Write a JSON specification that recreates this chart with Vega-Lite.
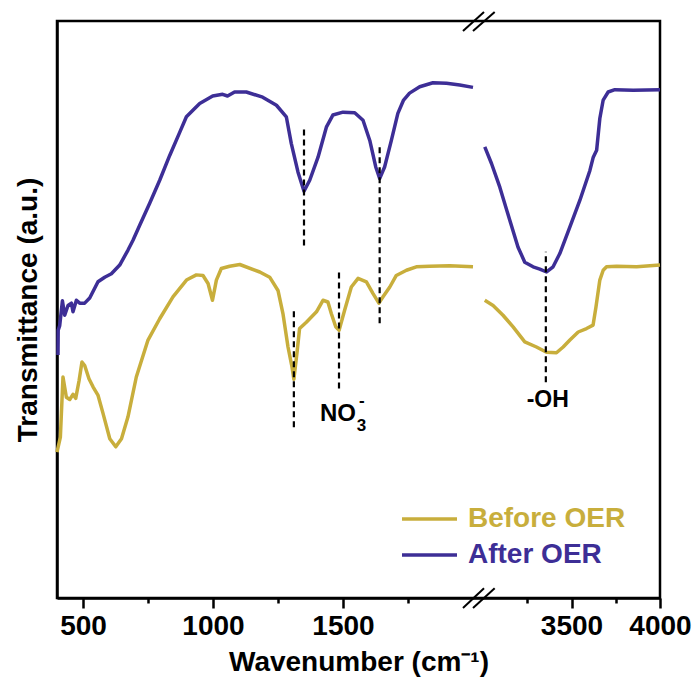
{
  "$schema": "https://vega.github.io/schema/vega-lite/v6.json",
  "width": 603,
  "height": 577,
  "autosize": {"type": "none"},
  "padding": {"left": 57, "top": 21, "right": 39, "bottom": 88},
  "config": {
    "font": "Liberation Sans",
    "view": {"stroke": "black", "strokeWidth": 2.5},
    "axis": {
      "domainColor": "black", "domainWidth": 2.5, "tickColor": "black", "tickWidth": 2.5,
      "labelColor": "black", "titleColor": "black", "labelFont": "Liberation Sans", "titleFont": "Liberation Sans",
      "labelFontWeight": "bold", "titleFontWeight": "bold", "labelFontSize": 28, "titleFontSize": 28, "grid": false
    }
  },
  "datasets": {
    "spectra": [
      {"s": "After OER", "seg": "L", "w": 403.8, "t": 42.1}, {"s": "After OER", "seg": "L", "w": 404.6, "t": 46.4},
      {"s": "After OER", "seg": "L", "w": 410.4, "t": 47.2}, {"s": "After OER", "seg": "L", "w": 420.8, "t": 51.5},
      {"s": "After OER", "seg": "L", "w": 429.6, "t": 49.0}, {"s": "After OER", "seg": "L", "w": 442.3, "t": 50.7},
      {"s": "After OER", "seg": "L", "w": 455.4, "t": 51.1}, {"s": "After OER", "seg": "L", "w": 461.5, "t": 49.6},
      {"s": "After OER", "seg": "L", "w": 474.6, "t": 51.6}, {"s": "After OER", "seg": "L", "w": 487.3, "t": 51.1},
      {"s": "After OER", "seg": "L", "w": 506.5, "t": 51.1}, {"s": "After OER", "seg": "L", "w": 525.8, "t": 52.0},
      {"s": "After OER", "seg": "L", "w": 557.7, "t": 54.8}, {"s": "After OER", "seg": "L", "w": 583.5, "t": 55.6},
      {"s": "After OER", "seg": "L", "w": 609.2, "t": 56.2}, {"s": "After OER", "seg": "L", "w": 641.2, "t": 57.7},
      {"s": "After OER", "seg": "L", "w": 673.1, "t": 60.3}, {"s": "After OER", "seg": "L", "w": 692.3, "t": 62.0},
      {"s": "After OER", "seg": "L", "w": 718.1, "t": 64.6}, {"s": "After OER", "seg": "L", "w": 756.5, "t": 68.4},
      {"s": "After OER", "seg": "L", "w": 795, "t": 72.4}, {"s": "After OER", "seg": "L", "w": 833.5, "t": 76.7},
      {"s": "After OER", "seg": "L", "w": 871.9, "t": 80.7}, {"s": "After OER", "seg": "L", "w": 897.7, "t": 83.4},
      {"s": "After OER", "seg": "L", "w": 948.8, "t": 85.7}, {"s": "After OER", "seg": "L", "w": 998.8, "t": 87.0},
      {"s": "After OER", "seg": "L", "w": 1037, "t": 87.3}, {"s": "After OER", "seg": "L", "w": 1056, "t": 87.0},
      {"s": "After OER", "seg": "L", "w": 1083, "t": 87.7}, {"s": "After OER", "seg": "L", "w": 1128, "t": 87.7},
      {"s": "After OER", "seg": "L", "w": 1191, "t": 86.8}, {"s": "After OER", "seg": "L", "w": 1244, "t": 85.4},
      {"s": "After OER", "seg": "L", "w": 1282, "t": 83.4}, {"s": "After OER", "seg": "L", "w": 1301, "t": 78.8},
      {"s": "After OER", "seg": "L", "w": 1327, "t": 73.8}, {"s": "After OER", "seg": "L", "w": 1350, "t": 70.5},
      {"s": "After OER", "seg": "L", "w": 1372, "t": 72.4}, {"s": "After OER", "seg": "L", "w": 1404, "t": 76.4},
      {"s": "After OER", "seg": "L", "w": 1436, "t": 81.6}, {"s": "After OER", "seg": "L", "w": 1461, "t": 83.7},
      {"s": "After OER", "seg": "L", "w": 1500, "t": 84.2}, {"s": "After OER", "seg": "L", "w": 1545, "t": 84.1},
      {"s": "After OER", "seg": "L", "w": 1577, "t": 82.8}, {"s": "After OER", "seg": "L", "w": 1603, "t": 79.3},
      {"s": "After OER", "seg": "L", "w": 1626, "t": 74.7}, {"s": "After OER", "seg": "L", "w": 1641, "t": 72.7},
      {"s": "After OER", "seg": "L", "w": 1660, "t": 74.7}, {"s": "After OER", "seg": "L", "w": 1686, "t": 79.3},
      {"s": "After OER", "seg": "L", "w": 1711, "t": 84.0}, {"s": "After OER", "seg": "L", "w": 1733, "t": 86.3},
      {"s": "After OER", "seg": "L", "w": 1756, "t": 87.5}, {"s": "After OER", "seg": "L", "w": 1795, "t": 88.6},
      {"s": "After OER", "seg": "L", "w": 1846, "t": 89.3}, {"s": "After OER", "seg": "L", "w": 1898, "t": 89.2},
      {"s": "After OER", "seg": "L", "w": 1949, "t": 88.9}, {"s": "After OER", "seg": "L", "w": 2000, "t": 88.5},
      {"s": "After OER", "seg": "R", "w": 3010, "t": 78.2}, {"s": "After OER", "seg": "R", "w": 3048, "t": 75.3},
      {"s": "After OER", "seg": "R", "w": 3095, "t": 71.2}, {"s": "After OER", "seg": "R", "w": 3151, "t": 65.5},
      {"s": "After OER", "seg": "R", "w": 3198, "t": 60.8}, {"s": "After OER", "seg": "R", "w": 3236, "t": 58.2},
      {"s": "After OER", "seg": "R", "w": 3283, "t": 57.4}, {"s": "After OER", "seg": "R", "w": 3321, "t": 57.0},
      {"s": "After OER", "seg": "R", "w": 3359, "t": 56.5}, {"s": "After OER", "seg": "R", "w": 3396, "t": 57.4},
      {"s": "After OER", "seg": "R", "w": 3434, "t": 59.7}, {"s": "After OER", "seg": "R", "w": 3491, "t": 64.3},
      {"s": "After OER", "seg": "R", "w": 3547, "t": 68.9}, {"s": "After OER", "seg": "R", "w": 3604, "t": 74.1},
      {"s": "After OER", "seg": "R", "w": 3623, "t": 76.4}, {"s": "After OER", "seg": "R", "w": 3642, "t": 77.6},
      {"s": "After OER", "seg": "R", "w": 3660, "t": 83.1}, {"s": "After OER", "seg": "R", "w": 3679, "t": 86.3},
      {"s": "After OER", "seg": "R", "w": 3707, "t": 87.7}, {"s": "After OER", "seg": "R", "w": 3745, "t": 88.1},
      {"s": "After OER", "seg": "R", "w": 3849, "t": 88.0}, {"s": "After OER", "seg": "R", "w": 4000, "t": 88.1},
      {"s": "Before OER", "seg": "L", "w": 400, "t": 25.3}, {"s": "Before OER", "seg": "L", "w": 413, "t": 27.9},
      {"s": "Before OER", "seg": "L", "w": 423, "t": 38.3}, {"s": "Before OER", "seg": "L", "w": 436, "t": 34.8},
      {"s": "Before OER", "seg": "L", "w": 449, "t": 34.4}, {"s": "Before OER", "seg": "L", "w": 461.5, "t": 35.3},
      {"s": "Before OER", "seg": "L", "w": 472, "t": 34.6}, {"s": "Before OER", "seg": "L", "w": 485, "t": 37.7},
      {"s": "Before OER", "seg": "L", "w": 496, "t": 40.9}, {"s": "Before OER", "seg": "L", "w": 506.5, "t": 40.3},
      {"s": "Before OER", "seg": "L", "w": 523, "t": 38.0}, {"s": "Before OER", "seg": "L", "w": 538.5, "t": 36.6},
      {"s": "Before OER", "seg": "L", "w": 558, "t": 35.1}, {"s": "Before OER", "seg": "L", "w": 577, "t": 32.0},
      {"s": "Before OER", "seg": "L", "w": 603, "t": 27.6}, {"s": "Before OER", "seg": "L", "w": 626, "t": 26.2},
      {"s": "Before OER", "seg": "L", "w": 648, "t": 27.6}, {"s": "Before OER", "seg": "L", "w": 673, "t": 31.4},
      {"s": "Before OER", "seg": "L", "w": 705, "t": 38.3}, {"s": "Before OER", "seg": "L", "w": 750, "t": 44.7},
      {"s": "Before OER", "seg": "L", "w": 795, "t": 48.4}, {"s": "Before OER", "seg": "L", "w": 846, "t": 52.2},
      {"s": "Before OER", "seg": "L", "w": 898, "t": 55.1}, {"s": "Before OER", "seg": "L", "w": 936, "t": 56.0},
      {"s": "Before OER", "seg": "L", "w": 961.5, "t": 55.9}, {"s": "Before OER", "seg": "L", "w": 981, "t": 54.5},
      {"s": "Before OER", "seg": "L", "w": 998, "t": 51.6}, {"s": "Before OER", "seg": "L", "w": 1013, "t": 55.1},
      {"s": "Before OER", "seg": "L", "w": 1032, "t": 57.1}, {"s": "Before OER", "seg": "L", "w": 1064, "t": 57.5},
      {"s": "Before OER", "seg": "L", "w": 1103, "t": 57.8}, {"s": "Before OER", "seg": "L", "w": 1180, "t": 56.5},
      {"s": "Before OER", "seg": "L", "w": 1218, "t": 55.6}, {"s": "Before OER", "seg": "L", "w": 1250, "t": 53.3},
      {"s": "Before OER", "seg": "L", "w": 1269, "t": 49.3}, {"s": "Before OER", "seg": "L", "w": 1288.5, "t": 43.5},
      {"s": "Before OER", "seg": "L", "w": 1304, "t": 40.0}, {"s": "Before OER", "seg": "L", "w": 1311, "t": 37.9},
      {"s": "Before OER", "seg": "L", "w": 1324, "t": 42.9}, {"s": "Before OER", "seg": "L", "w": 1333, "t": 46.7},
      {"s": "Before OER", "seg": "L", "w": 1359, "t": 47.8}, {"s": "Before OER", "seg": "L", "w": 1398, "t": 49.6},
      {"s": "Before OER", "seg": "L", "w": 1423, "t": 51.6}, {"s": "Before OER", "seg": "L", "w": 1442, "t": 51.3},
      {"s": "Before OER", "seg": "L", "w": 1455, "t": 49.3}, {"s": "Before OER", "seg": "L", "w": 1472, "t": 47.0},
      {"s": "Before OER", "seg": "L", "w": 1485, "t": 46.4}, {"s": "Before OER", "seg": "L", "w": 1506.5, "t": 49.9},
      {"s": "Before OER", "seg": "L", "w": 1532, "t": 53.9}, {"s": "Before OER", "seg": "L", "w": 1558, "t": 55.4},
      {"s": "Before OER", "seg": "L", "w": 1590, "t": 54.8}, {"s": "Before OER", "seg": "L", "w": 1615, "t": 52.8},
      {"s": "Before OER", "seg": "L", "w": 1638, "t": 51.1}, {"s": "Before OER", "seg": "L", "w": 1654, "t": 52.2},
      {"s": "Before OER", "seg": "L", "w": 1680, "t": 53.9}, {"s": "Before OER", "seg": "L", "w": 1705, "t": 55.9},
      {"s": "Before OER", "seg": "L", "w": 1744, "t": 56.8}, {"s": "Before OER", "seg": "L", "w": 1782, "t": 57.4},
      {"s": "Before OER", "seg": "L", "w": 1833, "t": 57.5}, {"s": "Before OER", "seg": "L", "w": 1910, "t": 57.6},
      {"s": "Before OER", "seg": "L", "w": 2000, "t": 57.4},
      {"s": "Before OER", "seg": "R", "w": 3010, "t": 51.6}, {"s": "Before OER", "seg": "R", "w": 3057, "t": 50.7},
      {"s": "Before OER", "seg": "R", "w": 3113, "t": 49.0}, {"s": "Before OER", "seg": "R", "w": 3170, "t": 47.0},
      {"s": "Before OER", "seg": "R", "w": 3236, "t": 44.4}, {"s": "Before OER", "seg": "R", "w": 3302, "t": 43.5},
      {"s": "Before OER", "seg": "R", "w": 3359, "t": 42.6}, {"s": "Before OER", "seg": "R", "w": 3415, "t": 42.5},
      {"s": "Before OER", "seg": "R", "w": 3453, "t": 43.5}, {"s": "Before OER", "seg": "R", "w": 3491, "t": 44.7},
      {"s": "Before OER", "seg": "R", "w": 3538, "t": 46.1}, {"s": "Before OER", "seg": "R", "w": 3585, "t": 46.7},
      {"s": "Before OER", "seg": "R", "w": 3622, "t": 47.3}, {"s": "Before OER", "seg": "R", "w": 3638, "t": 50.4},
      {"s": "Before OER", "seg": "R", "w": 3660, "t": 55.1}, {"s": "Before OER", "seg": "R", "w": 3679, "t": 56.8},
      {"s": "Before OER", "seg": "R", "w": 3698, "t": 57.4}, {"s": "Before OER", "seg": "R", "w": 3755, "t": 57.5},
      {"s": "Before OER", "seg": "R", "w": 3868, "t": 57.4}, {"s": "Before OER", "seg": "R", "w": 4000, "t": 57.7}
    ],
    "peaks": [
      {"w": 1350, "a": 61.1, "b": 81.9},
      {"w": 1641, "a": 47.6, "b": 78.2},
      {"w": 1311, "a": 29.6, "b": 50.4},
      {"w": 1484.6, "a": 36.3, "b": 56.8},
      {"w": 3355, "a": 37.4, "b": 60.0}
    ],
    "breaks": [
      {"x1": 1961.5, "x2": 3005.7, "y1": 98.27, "y2": 101.56},
      {"x1": 2000, "x2": 3066, "y1": 98.27, "y2": 101.56},
      {"x1": 1961.5, "x2": 3005.7, "y1": -1.73, "y2": 1.68},
      {"x1": 2000, "x2": 3066, "y1": -1.73, "y2": 1.68}
    ],
    "labels": [
      {"txt": "NO", "w": 1480.7, "t": 30.6, "size": 24},
      {"txt": "3", "w": 1571, "t": 29.0, "size": 17},
      {"txt": "-", "w": 1572, "t": 33.2, "size": 17},
      {"txt": "-OH", "w": 3366, "t": 33.1, "size": 23}
    ]
  },
  "layer": [
    {
      "data": {"name": "spectra"},
      "mark": {"type": "line", "strokeWidth": 3.5, "strokeJoin": "round"},
      "encoding": {
        "x": {
          "field": "w", "type": "quantitative",
          "scale": {"domain": [400, 2000, 3000, 4000], "range": [0, 416, 426, 603], "nice": false, "zero": false},
          "axis": {
            "title": "Wavenumber (cm⁻¹)",
            "values": [500, 750, 1000, 1250, 1500, 1750, 3250, 3500, 3750, 4000],
            "labelExpr": "indexof([500,1000,1500,3500,4000], datum.value) >= 0 ? datum.label : ''",
            "format": "d",
            "tickSize": {"condition": {"test": "indexof([500,1000,1500,3500,4000], datum.value) >= 0", "value": 10}, "value": 5},
            "labelPadding": 4,
            "labelFlush": false,
            "labelOverlap": false,
            "titlePadding": 8
          }
        },
        "y": {
          "field": "t", "type": "quantitative",
          "scale": {"domain": [0, 100], "nice": false, "zero": false},
          "axis": {"title": "Transmittance (a.u.)", "labels": false, "ticks": false, "titlePadding": 15}
        },
        "color": {
          "field": "s", "type": "nominal",
          "scale": {"domain": ["Before OER", "After OER"], "range": ["#C8AE3C", "#3D2E96"]},
          "legend": {
            "title": null, "orient": "none", "legendX": 343, "legendY": 480,
            "symbolType": "stroke", "symbolSize": 3025, "symbolStrokeWidth": 3.5,
            "labelFontSize": 28, "labelFontWeight": "bold", "labelFont": "Liberation Sans",
            "labelOffset": 9, "clipHeight": 36, "rowPadding": 0, "padding": 0,
            "encode": {"labels": {"update": {"fill": {"scale": "color", "field": "value"}}}}
          }
        },
        "detail": {"field": "seg"}
      }
    },
    {
      "data": {"name": "peaks"},
      "mark": {"type": "rule", "color": "black", "strokeWidth": 2.2, "strokeDash": [6, 4]},
      "encoding": {
        "x": {"field": "w", "type": "quantitative"},
        "y": {"field": "a", "type": "quantitative"},
        "y2": {"field": "b"}
      }
    },
    {
      "data": {"name": "breaks"},
      "mark": {"type": "rule", "color": "black", "strokeWidth": 2},
      "encoding": {
        "x": {"field": "x1", "type": "quantitative"},
        "x2": {"field": "x2"},
        "y": {"field": "y1", "type": "quantitative"},
        "y2": {"field": "y2"}
      }
    },
    {
      "data": {"name": "labels"},
      "mark": {"type": "text", "fontWeight": "bold", "font": "Liberation Sans", "color": "black", "baseline": "alphabetic", "align": "center"},
      "encoding": {
        "x": {"field": "w", "type": "quantitative"},
        "y": {"field": "t", "type": "quantitative"},
        "text": {"field": "txt"},
        "size": {"field": "size", "type": "quantitative", "scale": null}
      }
    }
  ]
}
